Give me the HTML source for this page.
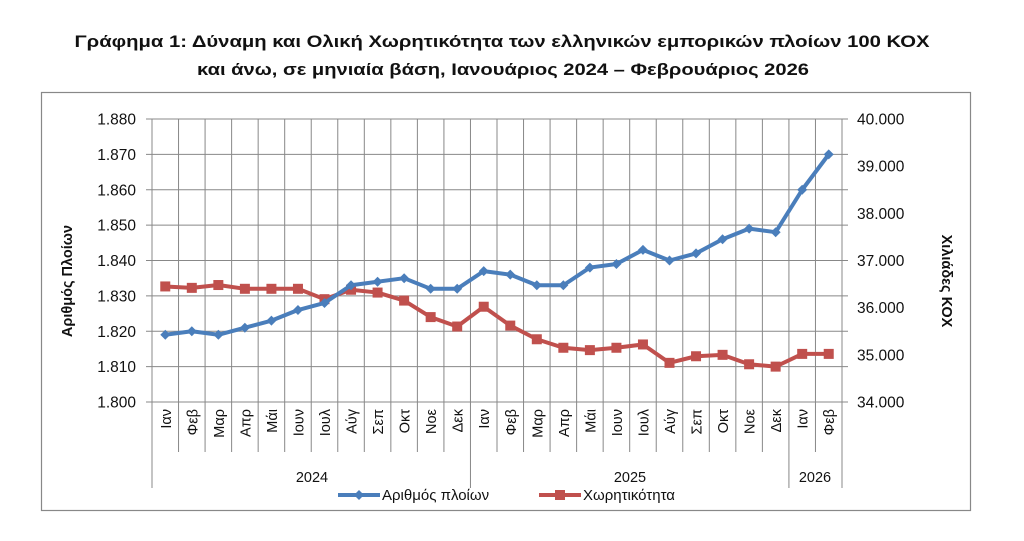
<!DOCTYPE html>
<html><head><meta charset="utf-8">
<style>
html,body{margin:0;padding:0;background:#fff;}
svg{display:block;font-family:"Liberation Sans","DejaVu Sans",sans-serif;}
</style></head>
<body>
<svg id="c" width="1024" height="541" viewBox="0 0 1024 541" xmlns="http://www.w3.org/2000/svg">
<text x="502" y="47" text-anchor="middle" font-size="17" font-weight="bold" fill="#111" textLength="855" lengthAdjust="spacingAndGlyphs">Γράφημα 1: Δύναμη και Ολική Χωρητικότητα των ελληνικών εμπορικών πλοίων 100 ΚΟΧ</text>
<text x="503" y="75" text-anchor="middle" font-size="17" font-weight="bold" fill="#111" textLength="612" lengthAdjust="spacingAndGlyphs">και άνω, σε μηνιαία βάση, Ιανουάριος 2024 – Φεβρουάριος 2026</text>
<rect x="41.5" y="92.5" width="929" height="418" fill="none" stroke="#888" stroke-width="1.2"/>
<g id="g"></g>
<text transform="translate(72,281) rotate(-90)" text-anchor="middle" font-size="14.5" font-weight="bold" fill="#111">Αριθμός Πλοίων</text>
<text transform="translate(942,281) rotate(90)" text-anchor="middle" font-size="14.5" font-weight="bold" fill="#111">Χιλιάδες ΚΟΧ</text>
</svg>
<script>
const g=document.getElementById('g');
const L=152,R=842,T=119,B=402,N=26,W=(R-L)/N;
let s='';
for(let i=0;i<=8;i++){const y=T+(B-T)*i/8;
 s+=`<line x1="${L-6}" y1="${y}" x2="${R+6}" y2="${y}" stroke="#888" stroke-width="1"/>`;
 s+=`<text x="136" y="${y+5.5}" text-anchor="end" font-size="15.5" fill="#111">1.${(880-i*10)}</text>`;}
for(let i=0;i<=6;i++){const y=T+(B-T)*i/6;
 s+=`<text x="857" y="${y+5.5}" font-size="15.5" fill="#111">${40-i}.000</text>`;}
for(let i=0;i<=N;i++){const x=L+W*i;const big=(i==0||i==12||i==24||i==26);
 s+=`<line x1="${x}" y1="${T}" x2="${x}" y2="${big?488:452}" stroke="#888" stroke-width="1"/>`;}
const m=["Ιαν","Φεβ","Μαρ","Απρ","Μάι","Ιουν","Ιουλ","Αύγ","Σεπ","Οκτ","Νοε","Δεκ"];
for(let i=0;i<N;i++){const x=L+W*(i+0.5);
 s+=`<text transform="translate(${x+5.5},409) rotate(-90)" text-anchor="end" font-size="14.5" fill="#111">${m[i%12]}</text>`;}
s+=`<text x="312" y="482" text-anchor="middle" font-size="14.5" fill="#111">2024</text>`;
s+=`<text x="630" y="482" text-anchor="middle" font-size="14.5" fill="#111">2025</text>`;
s+=`<text x="815" y="482" text-anchor="middle" font-size="14.5" fill="#111">2026</text>`;
const b=[1819,1820,1819,1821,1823,1826,1828,1833,1834,1835,1832,1832,1837,1836,1833,1833,1838,1839,1843,1840,1842,1846,1849,1848,1860,1870];
const r=[36.45,36.42,36.48,36.40,36.40,36.40,36.18,36.38,36.32,36.15,35.80,35.60,36.02,35.62,35.33,35.15,35.10,35.15,35.22,34.83,34.97,35.00,34.80,34.75,35.02,35.02];
const by=v=>B-(v-1800)/80*(B-T), ry=v=>B-(v-34)/6*(B-T);
let pr=r.map((v,i)=>`${L+W*(i+.5)},${ry(v)}`).join(' ');
let pb=b.map((v,i)=>`${L+W*(i+.5)},${by(v)}`).join(' ');
s+=`<polyline points="${pr}" fill="none" stroke="#c0504d" stroke-width="4" stroke-linejoin="round"/>`;
r.forEach((v,i)=>{s+=`<rect x="${L+W*(i+.5)-5}" y="${ry(v)-5}" width="10" height="10" fill="#c0504d"/>`;});
s+=`<polyline points="${pb}" fill="none" stroke="#4a7ebb" stroke-width="4" stroke-linejoin="round"/>`;
b.forEach((v,i)=>{const x=L+W*(i+.5),y=by(v);s+=`<polygon points="${x},${y-5} ${x+5},${y} ${x},${y+5} ${x-5},${y}" fill="#4a7ebb"/>`;});
s+=`<line x1="338" y1="495" x2="380" y2="495" stroke="#4a7ebb" stroke-width="4"/><polygon points="359,490 364,495 359,500 354,495" fill="#4a7ebb"/>`;
s+=`<text x="382" y="500" font-size="15" fill="#111">Αριθμός πλοίων</text>`;
s+=`<line x1="539" y1="495" x2="581" y2="495" stroke="#c0504d" stroke-width="4"/><rect x="555" y="490" width="10" height="10" fill="#c0504d"/>`;
s+=`<text x="583" y="500" font-size="15" fill="#111">Χωρητικότητα</text>`;
g.innerHTML=s;
</script>
</body></html>
